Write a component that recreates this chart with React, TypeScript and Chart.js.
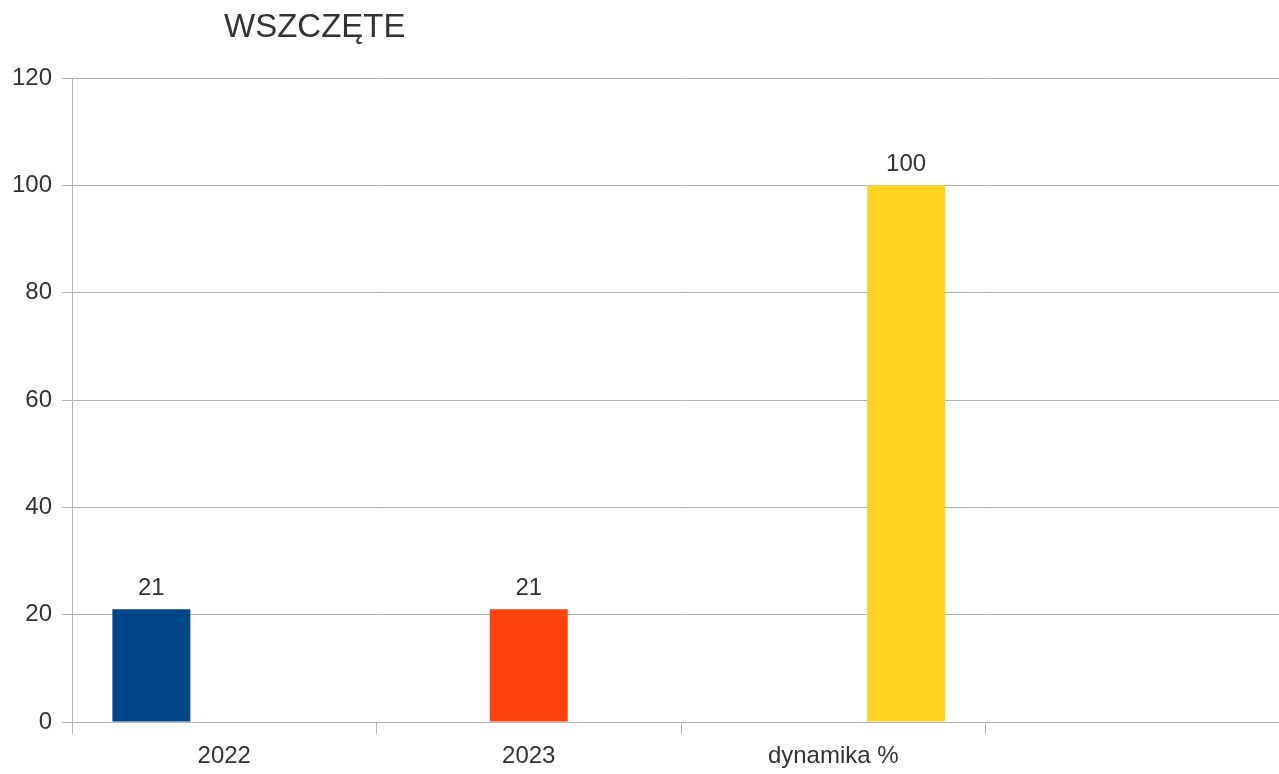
import React, { useEffect, useRef } from "react";
import { Chart, registerables } from "chart.js";

Chart.register(...registerables);

const title = "WSZCZĘTE";
const categories = ["2022", "2023", "dynamika %", ""];
const seriesNames = ["2022", "2023", "dynamika %"];
const values2022 = [21, null, null, null];
const values2023 = [null, 21, null, null];
const valuesDynamika = [null, null, 100, null];
const seriesColors = ["#004586", "#ff420e", "#ffd320"];
const yMin = 0;
const yMax = 120;
const yStep = 20;

const FONT = "'Liberation Sans', Arial, sans-serif";
const TEXT = "#333333";
const GRID = "#b3b3b3";

const valueLabels = {
  id: "valueLabels",
  afterDatasetsDraw(chart: any) {
    const ctx = chart.ctx;
    ctx.save();
    ctx.font = `24px ${FONT}`;
    ctx.fillStyle = TEXT;
    ctx.textAlign = "center";
    ctx.textBaseline = "alphabetic";
    chart.data.datasets.forEach((ds: any, di: number) => {
      const meta = chart.getDatasetMeta(di);
      ds.data.forEach((v: any, i: number) => {
        if (v === null || v === undefined) return;
        const el = meta.data[i];
        ctx.fillText(String(v), el.x, el.y - 14);
      });
    });
    ctx.restore();
  },
};

export default function App() {
  const ref = useRef<HTMLCanvasElement>(null);
  useEffect(() => {
    if (!ref.current) return;
    const chart = new Chart(ref.current, {
      type: "bar",
      data: {
        labels: categories,
        datasets: [
          { label: seriesNames[0], data: values2022, backgroundColor: seriesColors[0] },
          { label: seriesNames[1], data: values2023, backgroundColor: seriesColors[1] },
          { label: seriesNames[2], data: valuesDynamika, backgroundColor: seriesColors[2] },
        ],
      },
      options: {
        responsive: false,
        animation: false,
        layout: { padding: { top: 78, left: 0, right: 0, bottom: 0 } },
        plugins: {
          legend: { display: false },
          tooltip: { enabled: false },
          title: { display: false },
        },
        datasets: {
          bar: { categoryPercentage: 0.718, barPercentage: 1.07 },
        } as any,
        scales: {
          x: {
            offset: true,
            grid: {
              display: true,
              offset: true,
              drawOnChartArea: false,
              drawTicks: true,
              tickLength: 12,
              color: GRID,
            },
            border: { display: true, color: GRID },
            ticks: {
              color: TEXT,
              font: { family: FONT, size: 24 },
              padding: 8,
              maxRotation: 0,
              autoSkip: false,
            },
            afterFit: (s: any) => {
              s.height = 52;
            },
          },
          y: {
            min: yMin,
            max: yMax,
            ticks: {
              stepSize: yStep,
              color: TEXT,
              font: { family: FONT, size: 24 },
              padding: 10,
            },
            grid: { color: GRID, tickLength: 10, drawTicks: true },
            border: { display: true, color: GRID },
            afterFit: (s: any) => {
              s.width = 72;
            },
          },
        },
      },
      plugins: [valueLabels],
    });
    return () => chart.destroy();
  }, []);

  return (
    <div
      style={{
        position: "fixed",
        left: 0,
        top: 0,
        width: 1279,
        height: 774,
        overflow: "hidden",
        background: "#ffffff",
      }}
    >
      <div
        style={{
          position: "absolute",
          left: 224,
          top: 9,
          fontFamily: FONT,
          fontSize: 33,
          lineHeight: 1,
          color: TEXT,
          whiteSpace: "nowrap",
          zIndex: 1,
        }}
      >
        {title}
      </div>
      <canvas
        ref={ref}
        width={1290}
        height={774}
        style={{ position: "absolute", left: 0, top: 0, width: 1290, height: 774 }}
      />
    </div>
  );
}
